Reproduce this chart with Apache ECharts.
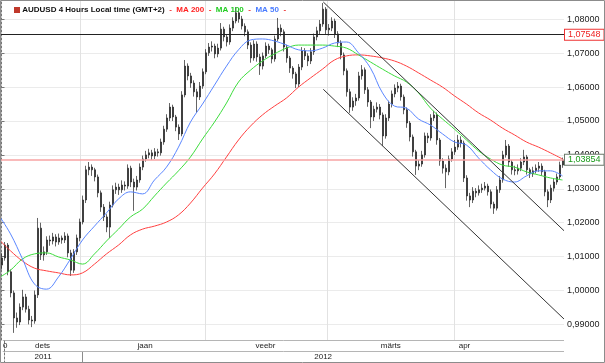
<!DOCTYPE html>
<html><head><meta charset="utf-8">
<script src="https://cdn.jsdelivr.net/npm/echarts@6/dist/echarts.min.js"></script>
<style>html,body{margin:0;padding:0;background:#fff}#c{width:605px;height:363px}</style>
</head><body><div id="c"></div>
<script>
// prices in pips (1/10000)
const firstOpen = 10075;
const closes = [10096,10134,10055,9993,9919,9907,9951,9981,9945,9913,
 9910,9987,10184,10105,10114,10149,10146,10158,10143,10155,
 10149,10161,10111,10060,10114,10155,10202,10267,10356,10364,
 10356,10335,10288,10246,10217,10187,10252,10297,10305,10297,
 10311,10308,10361,10320,10305,10326,10364,10388,10400,10406,
 10397,10409,10406,10438,10476,10509,10541,10512,10482,10462,
 10577,10662,10633,10612,10586,10571,10603,10645,10701,10718,
 10721,10698,10715,10771,10748,10733,10774,10795,10819,10801,
 10780,10763,10724,10686,10727,10689,10662,10692,10721,10710,
 10683,10742,10774,10763,10718,10686,10656,10639,10609,10659,
 10707,10692,10677,10704,10748,10766,10786,10830,10769,10774,
 10795,10757,10730,10695,10648,10586,10541,10559,10568,10633,
 10651,10592,10556,10512,10535,10541,10518,10456,10509,10550,
 10580,10597,10603,10571,10533,10494,10453,10409,10367,10373,
 10400,10456,10450,10509,10518,10444,10382,10361,10350,10388,
 10409,10423,10444,10435,10332,10279,10267,10293,10288,10297,
 10302,10308,10291,10255,10243,10297,10326,10400,10426,10379,
 10356,10353,10361,10379,10394,10356,10344,10353,10361,10367,
 10350,10291,10267,10302,10320,10335,10370,10385];
const highs = [10110,10143,10140,10062,10000,9935,9962,10002,9990,9955,
 9925,10000,10214,10200,10130,10160,10162,10170,10166,10168,
 10162,10172,10168,10120,10122,10165,10212,10280,10368,10379,
 10372,10362,10342,10295,10255,10225,10262,10310,10318,10315,
 10325,10322,10372,10368,10330,10338,10375,10398,10412,10418,
 10415,10420,10418,10448,10486,10520,10553,10548,10518,10490,
 10588,10680,10670,10642,10620,10595,10615,10655,10712,10730,
 10735,10728,10728,10789,10778,10755,10785,10806,10836,10826,
 10810,10788,10770,10732,10738,10735,10698,10702,10732,10728,
 10716,10752,10804,10785,10770,10725,10692,10662,10645,10668,
 10718,10715,10700,10715,10758,10778,10798,10848,10836,10786,
 10806,10802,10765,10738,10702,10655,10595,10570,10580,10645,
 10665,10658,10600,10562,10545,10555,10550,10525,10520,10560,
 10590,10608,10615,10610,10578,10540,10500,10460,10415,10385,
 10412,10466,10465,10520,10530,10525,10450,10390,10372,10398,
 10420,10444,10459,10455,10442,10340,10288,10305,10302,10310,
 10315,10320,10315,10298,10262,10308,10338,10412,10444,10432,
 10385,10368,10372,10390,10415,10400,10362,10365,10372,10379,
 10375,10356,10298,10312,10330,10345,10380,10392];
const lows = [10062,10088,10045,9980,9875,9890,9898,9942,9935,9900,
 9892,9902,9978,10090,10088,10105,10132,10136,10130,10135,
 10138,10140,10098,10043,10052,10105,10145,10195,10258,10340,
 10338,10322,10275,10232,10205,10172,10155,10245,10285,10282,
 10288,10295,10300,10305,10235,10295,10318,10355,10380,10390,
 10385,10388,10395,10398,10430,10468,10500,10500,10470,10444,
 10455,10570,10620,10598,10572,10524,10562,10595,10638,10692,
 10705,10685,10688,10708,10735,10720,10725,10765,10788,10790,
 10770,10750,10712,10672,10678,10675,10636,10652,10685,10698,
 10670,10675,10735,10750,10705,10672,10642,10625,10597,10600,
 10650,10680,10662,10668,10695,10738,10756,10778,10755,10752,
 10765,10745,10718,10682,10635,10572,10524,10530,10545,10560,
 10622,10580,10542,10479,10500,10525,10505,10426,10448,10500,
 10540,10570,10585,10560,10520,10480,10440,10395,10341,10355,
 10365,10392,10435,10442,10500,10430,10368,10345,10302,10340,
 10380,10400,10415,10422,10320,10265,10246,10258,10275,10280,
 10288,10295,10280,10242,10226,10236,10288,10318,10392,10365,
 10342,10340,10342,10352,10370,10342,10332,10335,10345,10350,
 10338,10278,10246,10258,10292,10312,10328,10362];

// moving averages sampled every MA_STEP candles starting at MA_START
const MA_START = -1, MA_STEP = 4;
const ma50 = [10223,10167,10093,10019,10004,10040,10093,10149,10190,10229,10270,10291,10285,10326,10364,10423,10497,10550,10606,10662,10710,10739,10742,10736,10724,10710,10707,10715,10730,10733,10701,10656,10583,10544,10538,10506,10488,10462,10438,10429,10391,10356,10329,10320,10338,10353,10353,10338];
const ma100 = [10037,10060,10093,10108,10111,10099,10090,10078,10108,10146,10181,10217,10240,10279,10317,10353,10394,10447,10497,10553,10615,10650,10677,10698,10715,10724,10724,10724,10721,10715,10695,10674,10653,10633,10615,10583,10538,10506,10476,10444,10412,10388,10370,10364,10350,10341,10332,10326];
const ma200 = [10152,10117,10087,10066,10058,10052,10046,10052,10078,10108,10134,10164,10181,10190,10202,10223,10258,10302,10344,10394,10444,10485,10518,10544,10568,10600,10627,10653,10680,10692,10695,10692,10686,10677,10662,10642,10621,10600,10574,10550,10524,10503,10479,10459,10438,10423,10406,10388];

const yTicks = [0.99,1.00,1.01,1.02,1.03,1.04,1.05,1.06,1.07,1.08];
const gridBounds = [26.17, 67.83, 108.5, 150.83];
const monthBounds = [2.83, 26.17, 67.83, 108.5, 150.83];
const monthLabels = ['0','dets','jaan','veebr','märts','apr'];
const monthLabelPos = [0.33, 12.83, 47.17, 87.5, 129.5, 154.17];
const yearBounds = [26.17];
const yearLabels = ['2011','2012'];
const yearLabelPos = [13, 106.83];
const levelResist = 1.07548;
const levelLast = 1.03854;
const channelUpper = [[107.27, 1.0851],[187.5, 1.01764]];
const channelLower = [[107.27, 1.05935],[187.5, 0.99159]];

const candles = closes.map((c, i) => {
  const o = i === 0 ? firstOpen : closes[i - 1];
  return [i, o / 1e4, c / 1e4, lows[i] / 1e4, highs[i] / 1e4];
});
const maData = arr => arr.map((v, k) => [MA_START + MA_STEP * k, v / 1e4]);
const pick = (vals, texts) => v => {
  for (let i = 0; i < vals.length; i++) if (Math.abs(vals[i] - v) < 1e-6) return texts[i];
  return '';
};
const fmt = v => v.toFixed(5).replace('.', ',');
const FONT = 'Liberation Sans, Arial, sans-serif';
const dash = [2, 2];
const TS = 8;

const chart = echarts.init(document.getElementById('c'), null, {renderer: 'canvas'});
chart.setOption({
  animation: false,
  textStyle: {fontFamily: FONT},
  title: {
    left: 9, top: 1,
    text: '{ic|}{t| AUDUSD 4 Hours Local time (GMT+2)}{d|  -  }{r|MA 200}{d|  -  }{g|MA 100}{d|  -  }{b|MA 50}{d|  -}',
    textStyle: {
      fontSize: TS, fontFamily: FONT,
      rich: {
        ic: {width: 6, height: 6, backgroundColor: '#c0392b'},
        t: {color: '#111', fontSize: TS, fontFamily: FONT},
        d: {color: '#e33', fontSize: TS, fontFamily: FONT},
        r: {color: '#f22', fontSize: TS, fontFamily: FONT},
        g: {color: '#2c2', fontSize: TS, fontFamily: FONT},
        b: {color: '#4a7cff', fontSize: TS, fontFamily: FONT}
      }
    }
  },
  grid: [
    {left: 0, right: 41, top: 1, bottom: 23},
    {left: 0, right: 41, top: 340, bottom: 0}
  ],
  xAxis: [
    {type: 'value', gridIndex: 0, min: -0.5, max: 187.5,
     axisLine: {show: false}, axisLabel: {show: false},
     axisTick: {show: false, customValues: gridBounds},
     splitLine: {show: true, lineStyle: {color: '#e2e2e2', width: 1}}},
    {type: 'value', gridIndex: 1, position: 'top', min: -0.5, max: 187.5,
     axisLine: {show: true, lineStyle: {color: '#8c8c8c'}},
     axisTick: {show: true, inside: true, length: 11, customValues: monthBounds, lineStyle: {color: '#8c8c8c'}},
     axisLabel: {inside: true, customValues: monthLabelPos, formatter: pick(monthLabelPos, monthLabels), fontSize: 8, color: '#222', margin: 2},
     splitLine: {show: false}},
    {type: 'value', gridIndex: 1, position: 'bottom', min: -0.5, max: 187.5,
     axisLine: {show: false},
     axisTick: {show: true, inside: true, length: 11, customValues: yearBounds, lineStyle: {color: '#8c8c8c'}},
     axisLabel: {inside: true, customValues: yearLabelPos, formatter: pick(yearLabelPos, yearLabels), fontSize: 8, color: '#222', margin: 2},
     splitLine: {show: false}}
  ],
  yAxis: [
    {type: 'value', gridIndex: 0, position: 'right', min: 0.9854, max: 1.0854,
     axisLine: {show: true, lineStyle: {color: '#777', type: dash}},
     axisTick: {show: true, length: 3, customValues: yTicks, lineStyle: {color: '#777'}},
     axisLabel: {customValues: yTicks, formatter: fmt, fontSize: 9, color: '#222', margin: 3},
     splitLine: {show: true, lineStyle: {color: '#ebebeb'}}},
    {type: 'value', gridIndex: 1, position: 'right', min: 0, max: 2, interval: 1,
     axisLine: {show: true, lineStyle: {color: '#777', type: dash}},
     axisLabel: {show: false}, axisTick: {show: false},
     splitLine: {show: true, lineStyle: {color: '#b5b5b5'}}}
  ],
  series: [
    {type: 'candlestick', xAxisIndex: 0, yAxisIndex: 0, data: candles,
     encode: {x: 0, y: [1, 2, 3, 4]}, barWidth: 1.5,
     itemStyle: {color: '#111', color0: '#111', borderColor: '#222', borderColor0: '#222', borderWidth: 0.7},
     markLine: {
       silent: true, symbol: ['none', 'none'], animation: false, precision: 5,
       data: [
         {yAxis: levelResist, lineStyle: {color: '#222', width: 1, type: 'solid'},
          label: {show: true, position: 'end', distance: 1, formatter: fmt(levelResist),
                  color: '#e22', fontSize: 9, backgroundColor: '#fff', borderColor: '#e33', borderWidth: 1, padding: [1, 3, 0, 3]}},
         {yAxis: levelLast, lineStyle: {color: '#f7a3a3', width: 1.5, type: 'solid'},
          label: {show: true, position: 'end', distance: 1, formatter: fmt(levelLast),
                  color: '#1a9a1a', fontSize: 9, backgroundColor: '#fff', borderColor: '#6a7a6a', borderWidth: 1, padding: [1, 3, 0, 3]}},
         [{coord: channelUpper[0], lineStyle: {color: '#333', width: 1, type: 'solid'}, label: {show: false}}, {coord: channelUpper[1]}],
         [{coord: channelLower[0], lineStyle: {color: '#333', width: 1, type: 'solid'}, label: {show: false}}, {coord: channelLower[1]}]
       ]
     }},
    {type: 'line', name: 'MA 200', data: maData(ma200), smooth: 0.4, symbol: 'none', lineStyle: {color: '#ff4040', width: 1}, z: 3},
    {type: 'line', name: 'MA 100', data: maData(ma100), smooth: 0.4, symbol: 'none', lineStyle: {color: '#3ddc3d', width: 1}, z: 3},
    {type: 'line', name: 'MA 50', data: maData(ma50), smooth: 0.4, symbol: 'none', lineStyle: {color: '#5a86ff', width: 1}, z: 3}
  ],
  graphic: [
    {type: 'rect', silent: true, z: 100, shape: {x: 0.5, y: 0.5, width: 604, height: 362}, style: {fill: 'none', stroke: '#8c8c8c', lineWidth: 1}}
  ]
});
</script>
</body></html>
